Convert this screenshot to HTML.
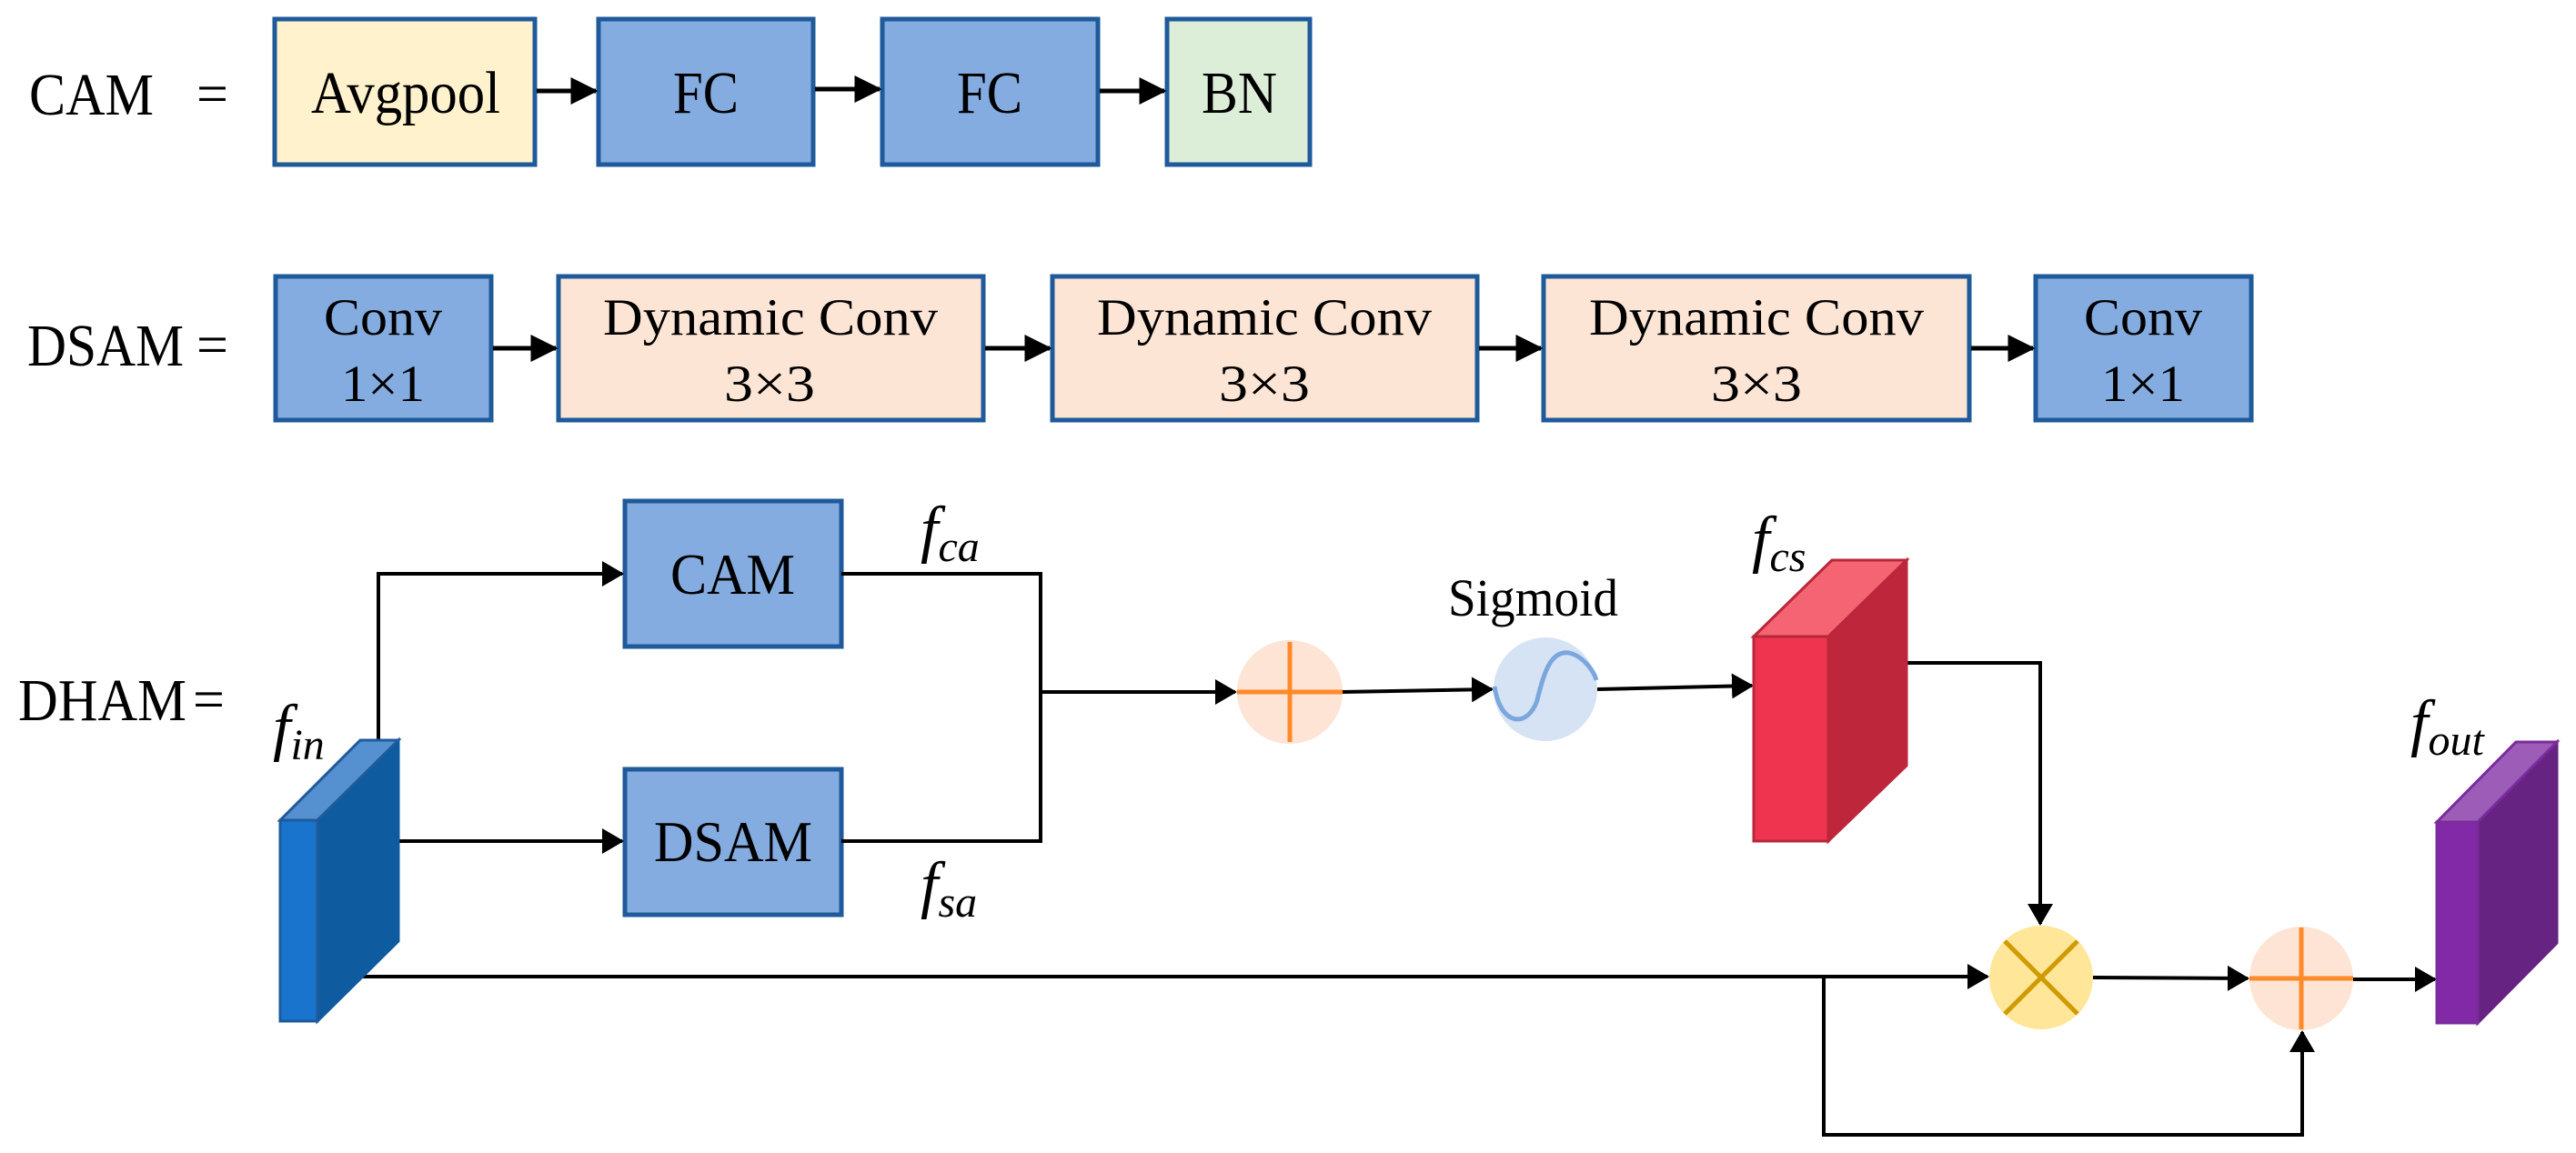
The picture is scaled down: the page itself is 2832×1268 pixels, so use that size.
<!DOCTYPE html>
<html><head><meta charset="utf-8"><style>
html,body{margin:0;padding:0;background:#fff;}
svg{display:block;}
</style></head><body>
<svg width="2832" height="1268" viewBox="0 0 2832 1268" xmlns="http://www.w3.org/2000/svg" font-family="'Liberation Serif', 'Times New Roman', 'DejaVu Serif', serif">
<defs>
<marker id="ah" markerWidth="6" markerHeight="6" refX="5.5" refY="3" orient="auto" markerUnits="strokeWidth">
<path d="M0,0 L6,3 L0,6 z" fill="#000"/></marker>
<marker id="ah2" markerWidth="6" markerHeight="7" refX="5.5" refY="3.5" orient="auto" markerUnits="strokeWidth">
<path d="M0,0 L6,3.5 L0,7 z" fill="#000"/></marker>
</defs>

<!-- CAM row -->
<text x="32" y="126" font-size="66" textLength="137" lengthAdjust="spacingAndGlyphs">CAM</text>
<text x="216" y="124" font-size="62">=</text>
<g stroke="#1F5A9A" stroke-width="5">
<rect x="302" y="21" width="286" height="160" fill="#FFF2CC"/>
<rect x="658" y="21" width="236" height="160" fill="#84ACE0"/>
<rect x="970" y="21" width="237" height="160" fill="#84ACE0"/>
<rect x="1283" y="21" width="157" height="160" fill="#DCEED8"/>
</g>
<g font-size="66">
<text x="342" y="124" textLength="208" lengthAdjust="spacingAndGlyphs">Avgpool</text>
<text x="740" y="124" textLength="72" lengthAdjust="spacingAndGlyphs">FC</text>
<text x="1052" y="124" textLength="72" lengthAdjust="spacingAndGlyphs">FC</text>
<text x="1321" y="124" textLength="83" lengthAdjust="spacingAndGlyphs">BN</text>
</g>
<g stroke="#000" stroke-width="5" fill="none" marker-end="url(#ah)">
<line x1="590" y1="100" x2="655" y2="100"/>
<line x1="896" y1="98" x2="967" y2="98"/>
<line x1="1209" y1="100" x2="1280" y2="100"/>
</g>

<!-- DSAM row -->
<text x="30" y="402" font-size="66" textLength="172" lengthAdjust="spacingAndGlyphs">DSAM</text>
<text x="216" y="400" font-size="62">=</text>
<g stroke="#1F5A9A" stroke-width="5">
<rect x="303" y="304" width="237" height="158" fill="#84ACE0"/>
<rect x="614" y="304" width="467" height="158" fill="#FDE5D6"/>
<rect x="1157" y="304" width="467" height="158" fill="#FDE5D6"/>
<rect x="1697" y="304" width="468" height="158" fill="#FDE5D6"/>
<rect x="2238" y="304" width="237" height="158" fill="#84ACE0"/>
</g>
<g font-size="57" lengthAdjust="spacingAndGlyphs">
<text x="356" y="368" textLength="130" lengthAdjust="spacingAndGlyphs">Conv</text><text x="375" y="441" textLength="92" lengthAdjust="spacingAndGlyphs">1×1</text>
<text x="663" y="368" textLength="368" lengthAdjust="spacingAndGlyphs">Dynamic Conv</text><text x="796" y="441" textLength="100" lengthAdjust="spacingAndGlyphs">3×3</text>
<text x="1206" y="368" textLength="368" lengthAdjust="spacingAndGlyphs">Dynamic Conv</text><text x="1340" y="441" textLength="100" lengthAdjust="spacingAndGlyphs">3×3</text>
<text x="1747" y="368" textLength="368" lengthAdjust="spacingAndGlyphs">Dynamic Conv</text><text x="1881" y="441" textLength="100" lengthAdjust="spacingAndGlyphs">3×3</text>
<text x="2291" y="368" textLength="130" lengthAdjust="spacingAndGlyphs">Conv</text><text x="2310" y="441" textLength="92" lengthAdjust="spacingAndGlyphs">1×1</text>
</g>
<g stroke="#000" stroke-width="5" fill="none" marker-end="url(#ah)">
<line x1="542" y1="383" x2="611" y2="383"/>
<line x1="1083" y1="383" x2="1154" y2="383"/>
<line x1="1626" y1="383" x2="1694" y2="383"/>
<line x1="2167" y1="383" x2="2235" y2="383"/>
</g>

<!-- DHAM -->
<text x="20" y="792" font-size="66" textLength="185" lengthAdjust="spacingAndGlyphs">DHAM</text>
<text x="212" y="790" font-size="62">=</text>

<g stroke="#1F5A9A" stroke-width="5">
<rect x="687" y="551" width="238" height="160" fill="#84ACE0"/>
<rect x="687" y="846" width="238" height="160" fill="#84ACE0"/>
</g>
<g font-size="64">
<text x="737" y="653" textLength="137" lengthAdjust="spacingAndGlyphs">CAM</text>
<text x="719" y="947" textLength="174" lengthAdjust="spacingAndGlyphs">DSAM</text>
</g>

<!-- f labels -->
<g font-style="italic">
<text x="1012" y="605" font-size="70">f<tspan font-size="48" dy="12">ca</tspan></text>
<text x="1012" y="996" font-size="70">f<tspan font-size="48" dy="12">sa</tspan></text>
<text x="300" y="823" font-size="70">f<tspan font-size="48" dy="12">in</tspan></text>
<text x="1926" y="616" font-size="70">f<tspan font-size="48" dy="12">cs</tspan></text>
<text x="2650" y="818" font-size="70">f<tspan font-size="48" dy="12">out</tspan></text>
</g>
<text x="1592" y="677" font-size="58" textLength="187" lengthAdjust="spacingAndGlyphs">Sigmoid</text>

<!-- connectors -->
<g stroke="#000" stroke-width="4" fill="none">
<polyline points="416,815 416,631 684,631" marker-end="url(#ah2)"/>
<line x1="438" y1="925" x2="684" y2="925" marker-end="url(#ah2)"/>
<polyline points="925,631 1144,631 1144,925 925,925"/>
<line x1="1144" y1="761" x2="1358" y2="761" marker-end="url(#ah2)"/>
<line x1="1475" y1="761" x2="1640" y2="758" marker-end="url(#ah2)"/>
<line x1="1756" y1="758" x2="1926" y2="754" marker-end="url(#ah2)"/>
<polyline points="2096,729 2243,729 2243,1016" marker-end="url(#ah2)"/>
<line x1="398" y1="1074" x2="2185" y2="1074" marker-end="url(#ah2)"/>
<polyline points="2005,1074 2005,1248 2531,1248 2531,1135" marker-end="url(#ah2)"/>
<line x1="2301" y1="1075" x2="2471" y2="1076" marker-end="url(#ah2)"/>
<line x1="2587" y1="1077" x2="2677" y2="1077" marker-end="url(#ah2)"/>
</g>

<!-- fin cube -->
<g stroke-width="3">
<polygon points="349,902 438,814 438,1035 349,1123" fill="#0F5BA0" stroke="#0F5BA0"/>
<polygon points="308,902 396,814 438,814 349,902" fill="#5590D0" stroke="#1F5A9A"/>
<rect x="308" y="902" width="41" height="221" fill="#1874CD" stroke="#1F5A9A"/>
</g>
<!-- fcs cube -->
<g stroke-width="3">
<polygon points="2010,700 2096,616 2096,842 2010,925" fill="#BE263C" stroke="#BE263C"/>
<polygon points="1928,700 2014,616 2096,616 2010,700" fill="#F46473" stroke="#B8283A"/>
<rect x="1928" y="700" width="82" height="225" fill="#EE344F" stroke="#B8283A"/>
</g>
<!-- fout cube -->
<g stroke-width="3">
<polygon points="2724,904 2811,816 2811,1037 2724,1125" fill="#662381" stroke="#662381"/>
<polygon points="2679,904 2766,816 2811,816 2724,904" fill="#9D5CB7" stroke="#7A2B9C"/>
<rect x="2679" y="904" width="45" height="221" fill="#8129A6" stroke="#7A2B9C"/>
</g>

<!-- plus circle 1 -->
<ellipse cx="1418" cy="761" rx="58" ry="57" fill="#FDE4D5"/>
<g stroke="#FF8A2A" stroke-width="5">
<line x1="1360" y1="761" x2="1476" y2="761"/><line x1="1418" y1="706" x2="1418" y2="816"/>
</g>
<!-- sigmoid -->
<ellipse cx="1699" cy="758" rx="57" ry="57" fill="#D6E3F4"/>
<path d="M1643,755 C1650,800 1680,800 1690,770 C1697,740 1705,715 1725,718 C1742,722 1753,740 1755,748" stroke="#7BA7DD" stroke-width="5" fill="none"/>
<!-- multiply -->
<ellipse cx="2244" cy="1075" rx="57" ry="57" fill="#FFE699"/>
<g stroke="#D09B00" stroke-width="5">
<line x1="2204" y1="1035" x2="2284" y2="1115"/><line x1="2284" y1="1035" x2="2204" y2="1115"/>
</g>
<!-- plus 2 -->
<ellipse cx="2530" cy="1076" rx="57" ry="57" fill="#FDE4D5"/>
<g stroke="#FF8A2A" stroke-width="5">
<line x1="2473" y1="1076" x2="2587" y2="1076"/><line x1="2530" y1="1020" x2="2530" y2="1132"/>
</g>
</svg>
</body></html>
